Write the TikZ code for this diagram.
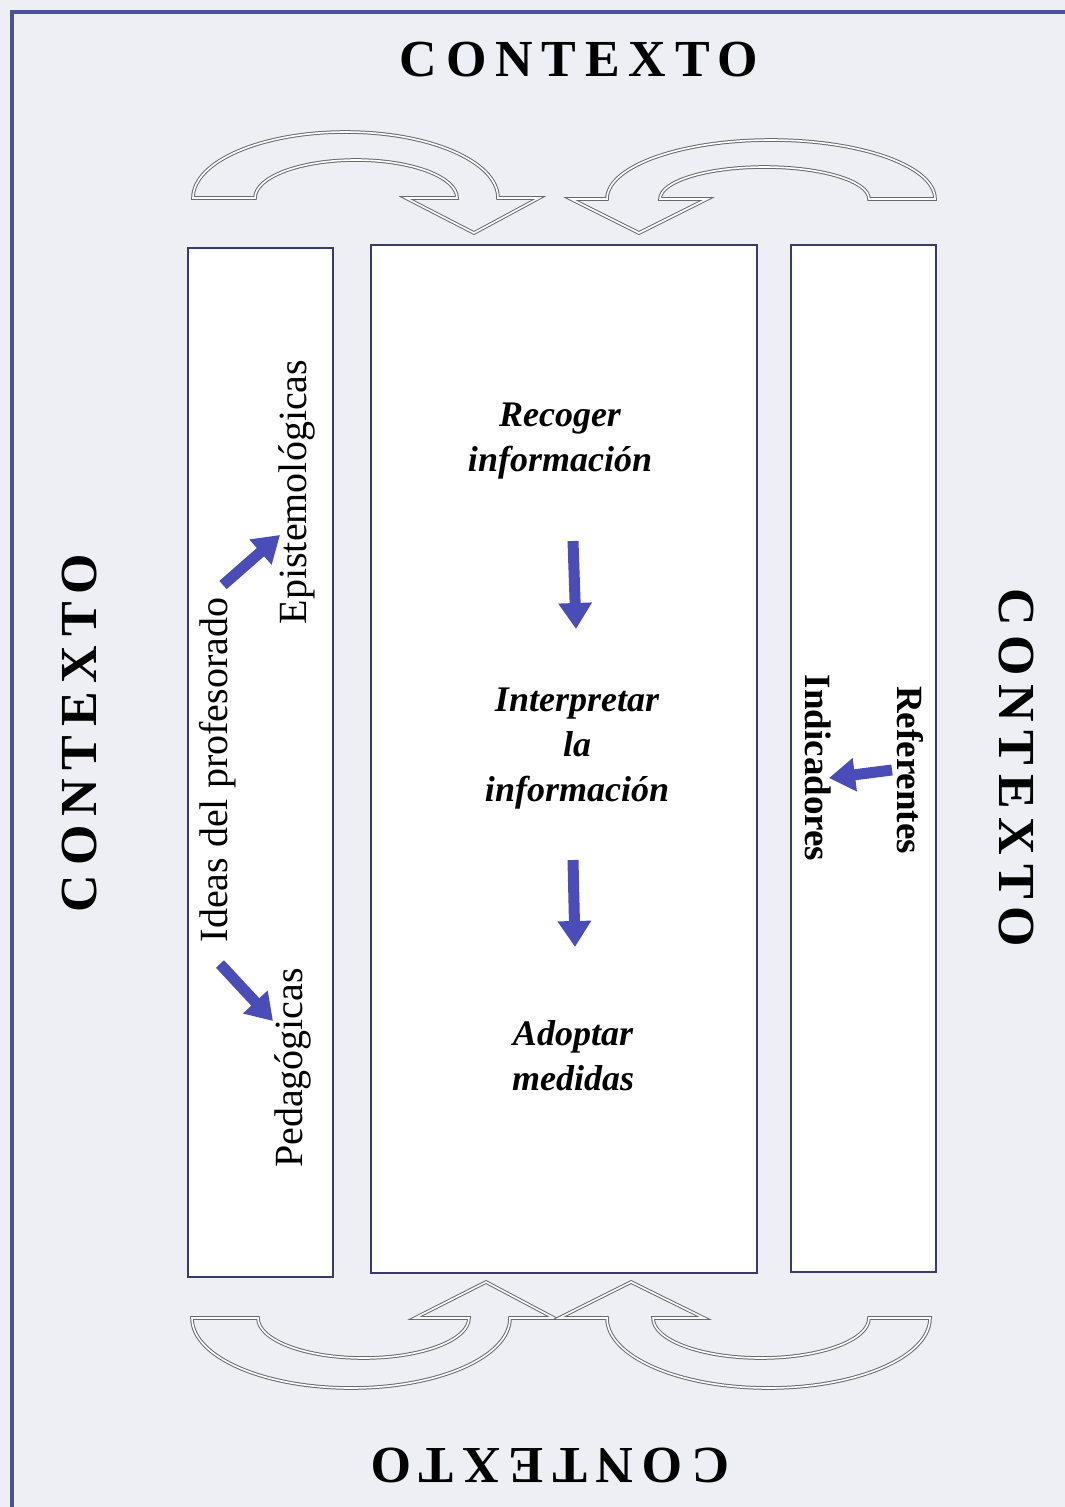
\documentclass[tikz,border=0pt]{standalone}
\usepackage{fontspec}
\setmainfont{Liberation Serif}
\newfontfamily\ctxfont[LetterSpace=17]{Liberation Serif}
\usetikzlibrary{arrows.meta}
\definecolor{paper}{RGB}{238,239,244}
\definecolor{frameblue}{RGB}{74,79,158}
\definecolor{boxline}{RGB}{58,58,104}
\definecolor{arrowblue}{RGB}{74,77,184}
\definecolor{hollowline}{RGB}{105,105,112}

\begin{document}
\begin{tikzpicture}[x=1pt, y=1pt, yscale=-1,
	ctx/.style={font=\fontsize{52}{60}\selectfont\ctxfont\bfseries, inner sep=0},
	box/.style={draw=boxline, fill=white, line width=2pt, inner sep=0},
	side/.style={font=\fontsize{40}{44}\selectfont, inner sep=0},
	sidebf/.style={font=\fontsize{37}{44}\selectfont\bfseries, inner sep=0},
	stage/.style={font=\fontsize{36}{45}\selectfont\bfseries\itshape, align=center, inner sep=0},
	bluearrow/.style={draw=arrowblue, line width=11pt, -{Triangle[length=26pt, width=32pt]}},
	hollow/.style={draw=hollowline, line width=1pt, double=white, double distance=1.6pt}]
 \useasboundingbox (0,0) rectangle (1065,1507);
 \fill[paper] (0,0) rectangle (1065,1507);
 \draw[frameblue, line width=4pt] (1070,12) -- (12,12) -- (12,1512);

 \node[box, minimum width=145pt, minimum height=1029pt] (ideas) at (260.5,762.5) {};
 \node[box, minimum width=386pt, minimum height=1028pt] (proceso) at (564,759) {};
 \node[box, minimum width=145pt, minimum height=1027pt] (criterios) at (863.5,758.5) {};

 \node[ctx] (ctxtop) at (579,60) {CONTEXTO};
 \node[ctx, rotate=90] (ctxleft) at (80,733) {CONTEXTO};
 \node[ctx, rotate=-90] (ctxright) at (1016,768) {CONTEXTO};
 \node[ctx, rotate=180] (ctxbottom) at (550,1465) {CONTEXTO};

 \node[side, rotate=90] (profesorado) at (218,770) {Ideas del profesorado};
 \node[side, rotate=90] (epistemo) at (297,492) {Epistemológicas};
 \node[side, rotate=90] (pedago) at (293,1068) {Pedagógicas};
 \node[sidebf, rotate=-90] (indicadores) at (818,768) {Indicadores};
 \node[sidebf, rotate=-90] (referentes) at (910,770) {Referentes};

 \node[stage] (recoger) at (560,441) {Recoger\\información};
 \node[stage] (interpretar) at (577,749) {Interpretar\\la\\información};
 \node[stage] (adoptar) at (573,1056) {Adoptar\\medidas};

 \coordinate (epifrom) at (223,585);
 \coordinate (epito) at (280,535);
 \coordinate (pedfrom) at (220,964);
 \coordinate (pedto) at (273,1021);
 \coordinate (reffrom) at (892,770);
 \coordinate (refto) at (829,778);
 \coordinate (recfrom) at (573,541);
 \coordinate (recto) at (576,629);
 \coordinate (intfrom) at (573,860);
 \coordinate (intto) at (575,947);
 \draw[bluearrow] (epifrom) -- (epito);
 \draw[bluearrow] (pedfrom) -- (pedto);
 \draw[bluearrow] (reffrom) -- (refto);
 \draw[bluearrow] (recfrom) -- (recto);
 \draw[bluearrow] (intfrom) -- (intto);

 % flechas huecas del contexto
 \draw[hollow] (193,198) arc[start angle=180, end angle=360, x radius=152.5, y radius=66]
	-- (539,198) -- (474,233) -- (406,198) -- (457,198)
	arc[start angle=360, end angle=180, x radius=101, y radius=38] -- cycle;
 \draw[hollow] (935,199) arc[start angle=0, end angle=-180, x radius=164, y radius=59]
	-- (571,199) -- (639,233) -- (707,199) -- (660,199)
	arc[start angle=180, end angle=360, x radius=104.5, y radius=32] -- cycle;
 \draw[hollow] (192,1318) arc[start angle=180, end angle=0, x radius=159, y radius=70]
	-- (554,1318) -- (486,1282) -- (415,1318) -- (469,1318)
	arc[start angle=0, end angle=180, x radius=105.5, y radius=40] -- cycle;
 \draw[hollow] (930,1318) arc[start angle=0, end angle=180, x radius=161.5, y radius=70]
	-- (559,1318) -- (631,1282) -- (704,1318) -- (653,1318)
	arc[start angle=180, end angle=0, x radius=108, y radius=40] -- cycle;
\end{tikzpicture}
\end{document}
